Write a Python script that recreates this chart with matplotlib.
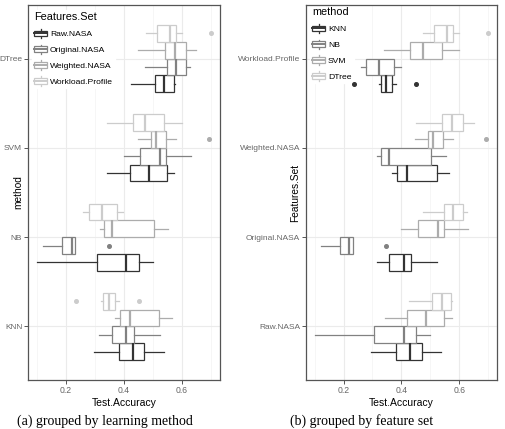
import matplotlib
matplotlib.use('Agg')
import matplotlib.pyplot as plt
from matplotlib.legend_handler import HandlerBase
from matplotlib.patches import Patch, Rectangle
from matplotlib.lines import Line2D
import numpy as np

plt.rcParams['font.family'] = ['Liberation Sans', 'DejaVu Sans']

# Data: rows = feature set, columns = method
methods = ['KNN', 'NB', 'SVM', 'DTree']
feature_sets = ['Raw.NASA', 'Original.NASA', 'Weighted.NASA', 'Workload.Profile']

q1 = [[0.383, 0.306, 0.421, 0.507],
      [0.358, 0.188, 0.456, 0.548],
      [0.386, 0.331, 0.493, 0.542],
      [0.328, 0.279, 0.431, 0.514]]
med = [[0.430, 0.408, 0.485, 0.539],
       [0.408, 0.220, 0.526, 0.578],
       [0.421, 0.358, 0.511, 0.577],
       [0.348, 0.324, 0.474, 0.559]]
q3 = [[0.470, 0.451, 0.547, 0.571],
      [0.435, 0.232, 0.546, 0.615],
      [0.522, 0.503, 0.545, 0.615],
      [0.368, 0.376, 0.539, 0.579]]
wlo = [[0.296, 0.100, 0.343, 0.425],
       [0.316, 0.123, 0.400, 0.474],
       [0.368, 0.317, 0.447, 0.450],
       [0.322, 0.261, 0.341, 0.476]]
whi = [[0.538, 0.500, 0.574, 0.576],
       [0.525, 0.233, 0.630, 0.628],
       [0.565, 0.553, 0.579, 0.650],
       [0.382, 0.398, 0.600, 0.600]]
outliers = {(1, 1): [0.348],
            (2, 2): [0.694],
            (3, 0): [0.236, 0.452],
            (3, 3): [0.701]}

greys = ['#333333', '#818181', '#acacac', '#cccccc']


def box_stats(f, m):
    return dict(q1=q1[f][m], med=med[f][m], q3=q3[f][m],
                whislo=wlo[f][m], whishi=whi[f][m],
                fliers=outliers.get((f, m), []))


class BoxKey(HandlerBase):
    def create_artists(self, legend, orig_handle, xdescent, ydescent,
                       width, height, fontsize, trans):
        c = orig_handle.get_edgecolor()
        x0, y0 = -xdescent, -ydescent
        cx = x0 + width / 2
        bw = width
        bh = height * 0.6
        by = y0 + height * 0.2
        box = Rectangle((cx - bw / 2, by), bw, bh, facecolor='white',
                        edgecolor=c, lw=0.9, transform=trans)
        medl = Line2D([cx - bw / 2, cx + bw / 2], [y0 + height / 2] * 2,
                      color=c, lw=1.4, transform=trans)
        w1 = Line2D([cx, cx], [y0, by], color=c, lw=0.9, transform=trans)
        w2 = Line2D([cx, cx], [by + bh, y0 + height], color=c, lw=0.9,
                    transform=trans)
        return [w1, w2, box, medl]


fig = plt.figure(figsize=(5.05, 4.29), dpi=100)
W, H = 505, 429
ax_a = fig.add_axes([28 / W, (H - 380) / H, 192 / W, 375 / H])
ax_b = fig.add_axes([306 / W, (H - 380) / H, 191 / W, 375 / H])

offsets = np.array([-0.28125, -0.09375, 0.09375, 0.28125])
bw = 0.1875
xmin = min(min(r) for r in wlo)
xmax = max(max(v) for v in outliers.values())
pad = (xmax - xmin) * 0.05


def draw(ax, group_axis):
    # group_axis == 'method': categories are methods, dodge by feature set
    for k in range(4):
        stats, pos = [], []
        for g in range(4):
            if group_axis == 'method':
                f, m = k, g
            else:
                f, m = g, k
            stats.append(box_stats(f, m))
            pos.append(g + 1 + offsets[k])
        c = greys[k]
        ax.bxp(stats, positions=pos, widths=bw, orientation='horizontal',
               patch_artist=True, showcaps=False,
               boxprops=dict(facecolor='white', edgecolor=c, linewidth=0.9),
               medianprops=dict(color=c, linewidth=1.6),
               whiskerprops=dict(color=c, linewidth=0.9),
               flierprops=dict(marker='o', markerfacecolor=c, markeredgecolor=c,
                               markersize=2.6),
               zorder=3)
    ax.set_xlim(xmin - pad, xmax + pad)
    ax.set_ylim(0.4, 4.6)
    ax.set_xticks([0.2, 0.4, 0.6])
    ax.set_xticklabels(['0.2', '0.4', '0.6'])
    ax.set_xticks([0.1, 0.3, 0.5, 0.7], minor=True)
    ax.set_yticks([1, 2, 3, 4])
    ax.grid(True, which='major', color='#ebebeb', linewidth=0.8, zorder=0)
    ax.grid(True, which='minor', axis='x', color='#f3f3f3', linewidth=0.5, zorder=0)
    ax.set_axisbelow(True)
    for s in ax.spines.values():
        s.set_color('#555555')
        s.set_linewidth(0.9)
        s.set_zorder(4)
    ax.tick_params(which='major', length=3, width=0.7, color='#555555',
                   labelsize=6.2, labelcolor='#666666', pad=1.5)
    ax.tick_params(axis='y', labelsize=6.0, pad=1.2)
    ax.tick_params(which='minor', length=0)
    ax.set_xlabel('Test.Accuracy', fontsize=7.5, labelpad=2)


draw(ax_a, 'method')
ax_a.set_yticklabels(methods)
ax_a.set_ylabel('method', fontsize=7.3)
ax_a.yaxis.set_label_coords(-5 / 192, 0.5)

draw(ax_b, 'features')
ax_b.set_yticklabels(feature_sets)
ax_b.set_ylabel('Features.Set', fontsize=7.3)
ax_b.yaxis.set_label_coords(-6 / 191, 0.5)

for ax, labels, title, top in [(ax_a, feature_sets, 'Features.Set', 1 - 3 / 375),
                               (ax_b, methods, 'method', 1 + 2 / 375)]:
    handles = [Patch(facecolor='white', edgecolor=greys[i]) for i in range(4)]
    leg = ax.legend(handles, labels, title=title, loc='upper left',
                    bbox_to_anchor=(0.01, top), fontsize=6.1,
                    title_fontsize=7.8, frameon=True, framealpha=1,
                    edgecolor='white', fancybox=False,
                    handler_map={Patch: BoxKey()}, handlelength=1.5,
                    handleheight=1.3, handletextpad=0.35, labelspacing=0.76,
                    borderpad=0.3, borderaxespad=0.2)
    leg._legend_box.align = 'left'
    leg.set_zorder(2.9)

fig.text(105 / W, 1 / H, '(a) grouped by learning method', ha='center',
         va='bottom', fontsize=10, family='Liberation Serif')
fig.text(362 / W, 1 / H, '(b) grouped by feature set', ha='center',
         va='bottom', fontsize=10, family='Liberation Serif')

fig.savefig('out.png', dpi=100)
